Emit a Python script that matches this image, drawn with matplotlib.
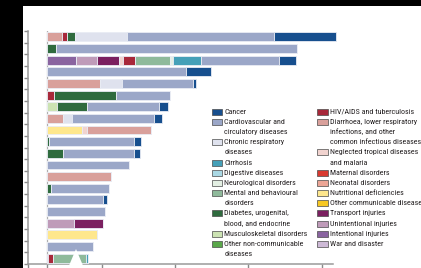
import matplotlib
matplotlib.use("Agg")
import matplotlib.pyplot as plt
import matplotlib.font_manager as fm
from matplotlib.patches import Rectangle, Polygon
import numpy as np

W, H = 421, 268

# ---- data (20 rows, top to bottom; segment lengths) ----
intentional   = [0, 0, 8.0, 0, 0, 0, 0, 0, 0, 0, 0, 0, 0, 0, 0, 0, 0, 0, 0, 0]
unintentional = [0, 0, 5.6, 0, 0, 0, 0, 0, 0, 0, 0, 0, 0, 0, 0, 0, 7.5, 0, 0, 0.4]
transport     = [0, 0, 6.2, 0, 0, 0, 0, 0, 0, 0, 0, 0, 0, 0, 0, 0, 7.9, 0, 0, 0]
nutritional   = [0, 0, 0, 0, 0, 0, 0, 0, 9.5, 0, 0, 0, 0, 0, 0, 0, 0, 13.6, 0, 0]
neglected     = [0, 0, 1.1, 0, 0, 0, 0, 0, 1.4, 0, 0, 0, 0, 0, 0, 0, 0, 0, 0, 0]
diarrhoea     = [4.1, 0, 0, 0, 14.5, 0, 0, 4.3, 17.5, 0, 0, 0, 17.5, 0, 0, 0, 0, 0, 0, 0]
hiv           = [1.4, 0, 3.2, 0, 0, 2.0, 0, 0, 0, 0, 0, 0, 0, 0, 0, 0, 0, 0, 0, 1.2]
musculo       = [0, 0, 0, 0, 0, 0, 2.9, 0, 0, 0, 0, 0, 0, 0, 0, 0, 0, 0, 0, 0]
diabetes      = [2.1, 2.5, 0, 0, 0, 16.9, 8.2, 0, 0, 0.7, 4.4, 0, 0, 1.2, 0, 0, 0, 0, 0, 0]
mental        = [0, 0, 9.5, 0, 0, 0, 0, 0, 0, 0, 0, 0, 0, 0, 0, 0, 0, 0, 0, 9.1]
neuro         = [0, 0, 0.9, 0, 0, 0, 0, 0, 0, 0, 0, 0, 0, 0, 0, 0, 0, 0, 0, 0]
chronic_resp  = [14.3, 0, 0, 0, 5.9, 0, 0, 2.6, 0, 0, 0, 0, 0, 0, 0, 0, 0, 0, 0, 0]
cirrhosis     = [0, 0, 7.5, 0, 0, 0, 0, 0, 0, 0, 0, 0, 0, 0, 0, 0, 0, 0, 0, 0.5]
cardio        = [40.2, 65.7, 21.4, 37.9, 19.4, 14.7, 19.6, 22.3, 0, 23.2, 19.5, 22.4, 0, 15.9, 15.4, 15.9, 0, 0, 12.5, 0]
cancer        = [16.9, 0, 4.5, 6.8, 0.9, 0, 2.3, 2.3, 0, 1.7, 1.4, 0, 0, 0, 1.1, 0, 0, 0, 0, 0]

C = {
    "cancer": "#174f8e", "cardio": "#9ba7c8", "chronic": "#dfe2ee", "cirrhosis": "#45a0b8",
    "digestive": "#a9d8e4", "neuro": "#e3efe3", "mental": "#8fba9b", "diabetes": "#2f6b3e",
    "musculo": "#cce3b3", "otherncd": "#5aa84a",
    "hiv": "#a8283a", "diarrhoea": "#d9a09b", "neglected": "#f1d3cf", "maternal": "#d93a30",
    "neonatal": "#eca595", "nutritional": "#fee78d", "othercomm": "#f7c823",
    "transport": "#7b2060", "unintentional": "#bf9bb9", "intentional": "#8a64a0", "war": "#cdb9d6",
}

stack = [
    (intentional, C["intentional"]), (unintentional, C["unintentional"]),
    (transport, C["transport"]), (nutritional, C["nutritional"]),
    (neglected, C["neglected"]), (diarrhoea, C["diarrhoea"]), (hiv, C["hiv"]),
    (musculo, C["musculo"]), (diabetes, C["diabetes"]), (mental, C["mental"]),
    (neuro, C["neuro"]), (chronic_resp, C["chronic"]), (cirrhosis, C["cirrhosis"]),
    (cardio, C["cardio"]), (cancer, C["cancer"]),
]

left_labels = ["Cancer", "Cardiovascular and\ncirculatory diseases", "Chronic respiratory\ndiseases",
               "Cirrhosis", "Digestive diseases", "Neurological disorders",
               "Mental and behavioural\ndisorders", "Diabetes, urogenital,\nblood, and endocrine",
               "Musculoskeletal disorders", "Other non-communicable\ndiseases"]
left_colors = [C["cancer"], C["cardio"], C["chronic"], C["cirrhosis"], C["digestive"], C["neuro"],
               C["mental"], C["diabetes"], C["musculo"], C["otherncd"]]
right_labels = ["HIV/AIDS and tuberculosis",
                "Diarrhoea, lower respiratory\ninfections, and other\ncommon infectious diseases",
                "Neglected tropical diseases\nand malaria", "Maternal disorders", "Neonatal disorders",
                "Nutritional deficiencies", "Other communicable diseases", "Transport injuries",
                "Unintentional injuries", "Intentional injuries", "War and disaster"]
right_colors = [C["hiv"], C["diarrhoea"], C["neglected"], C["maternal"], C["neonatal"],
                C["nutritional"], C["othercomm"], C["transport"], C["unintentional"],
                C["intentional"], C["war"]]

# ---- pick a narrow font if one is installed ----
def pick_font():
    prefs = ["Liberation Sans Narrow", "Noto Sans", "Open Sans", "Roboto", "DejaVu Sans", "Lato"]
    cands = []
    for f in fm.fontManager.ttflist:
        nm = f.name
        path = f.fname.lower()
        narrow = ("narrow" in nm.lower() or "condensed" in nm.lower() or "narrow" in path
                  or "condensed" in path or str(f.stretch) in ("condensed", "semi-condensed",
                                                             "extra-condensed"))
        if not narrow or f.style != "normal":
            continue
        if "semicondensed" in path or "extracondensed" in path or "ultracondensed" in path:
            continue
        w = f.weight if isinstance(f.weight, int) else {"normal": 400, "regular": 400}.get(str(f.weight), 500)
        if w != 400:
            continue
        rank = next((i for i, p in enumerate(prefs) if nm.startswith(p)), len(prefs))
        cands.append((rank, f.fname))
    if cands:
        cands.sort()
        return fm.FontProperties(fname=cands[0][1])
    return fm.FontProperties(family=["Liberation Sans", "DejaVu Sans"])

fprop = pick_font()

# ---- figure ----
fig = plt.figure(figsize=(W / 100, H / 100), dpi=100)
fig.patch.set_facecolor("white")

def fx(px):
    return px / W

def fy(py):
    return 1 - py / H

# size the legend font so that a known label has the reference width (83 px)
renderer = fig.canvas.get_renderer()
probe = fig.text(0, 0, "HIV/AIDS and tuberculosis", fontproperties=fprop, fontsize=10)
wpx = probe.get_window_extent(renderer).width
probe.remove()
fsize = min(6.6, 10 * 83.0 / wpx)
fprop.set_size(fsize)

x_left_px, x_right_px = 28.4, 334.6
y_top_px, y_bot_px = 31.0, 264.0
ax = fig.add_axes([fx(x_left_px), fy(y_bot_px), fx(x_right_px - x_left_px), (y_bot_px - y_top_px) / H])
ax.set_xlim(-5, 78.5)
n = len(cardio)
ax.set_ylim(n - 0.5, -0.5)

y = np.arange(n)
base = np.zeros(n)
for vals, col in stack:
    v = np.array(vals, dtype=float)
    ax.barh(y, v, left=base, height=0.76, color=col, edgecolor="#e9ecf4",
            linewidth=0.6, clip_on=False, zorder=3)
    base += v

ax.axvline(0, color="#b0b0b0", lw=0.9, zorder=2)

for s in ["top", "right"]:
    ax.spines[s].set_visible(False)
for s in ["left", "bottom"]:
    ax.spines[s].set_color("#9a9a9a")
    ax.spines[s].set_linewidth(1.1)
ax.spines["bottom"].set_bounds(-5, 78)

ax.set_yticks(np.arange(-0.5, n, 1.0))
ax.set_xticks([-5, 0, 15, 35, 55, 75])
ax.tick_params(axis="both", length=3.0, width=1.0, color="#8a8a8a",
               labelleft=False, labelbottom=False)

# ---- legend (drawn manually) ----
line0, dy = 111.7, 10.17

def draw_legend(labels, colors, box_x, text_x):
    line = 0
    for lab, col in zip(labels, colors):
        yc = line0 + line * dy
        fig.patches.append(Rectangle((fx(box_x), fy(yc + 3.0)), fx(10.5), 6.0 / H,
                                     facecolor=col, edgecolor="#4a4a4a", lw=0.5,
                                     transform=fig.transFigure, figure=fig))
        for k, part in enumerate(lab.split("\n")):
            fig.text(fx(text_x), fy(yc + k * dy), part, ha="left", va="center",
                     fontproperties=fprop, color="#231f20")
        line += lab.count("\n") + 1

draw_legend(left_labels, left_colors, 211.7, 224.3)
draw_legend(right_labels, right_colors, 317.3, 330.0)

# ---- frame artefacts of the reference image ----
fig.patches.append(Rectangle((0, 0), fx(23), 1, facecolor="black", edgecolor="none",
                             transform=fig.transFigure, figure=fig, zorder=10))
fig.patches.append(Rectangle((0, fy(6)), 1, 6 / H, facecolor="black", edgecolor="none",
                             transform=fig.transFigure, figure=fig, zorder=10))
fig.patches.append(Polygon([(fx(68), fy(268)), (fx(76), fy(249)), (fx(84), fy(268))],
                           closed=True, facecolor="white", edgecolor="none",
                           transform=fig.transFigure, figure=fig, zorder=10))

fig.savefig("out.png", dpi=100)
